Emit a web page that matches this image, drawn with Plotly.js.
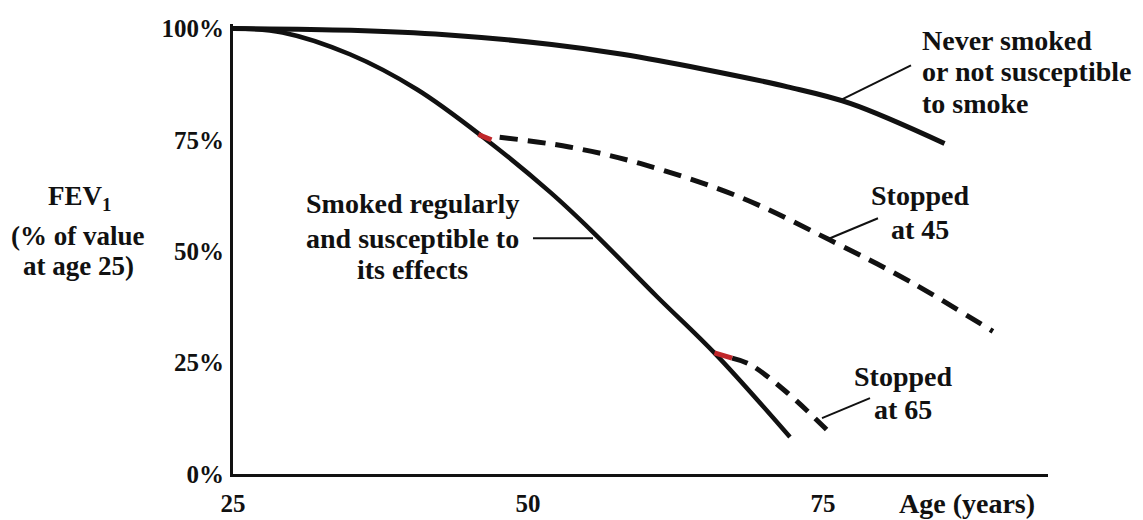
<!DOCTYPE html>
<html>
<head>
<meta charset="utf-8">
<script src="https://cdn.plot.ly/plotly-3.0.1.min.js"></script>
<style>
  html, body { margin: 0; padding: 0; background: #fff; }
  #chart { width: 1143px; height: 520px; }
</style>
</head>
<body>
<div id="chart"></div>
<script>
// Never smoked or not susceptible
const neverAge = [25, 35, 43, 52, 58, 65, 72, 77.3, 85.3];
const neverPct = [100, 99.6, 98.6, 96.4, 94.2, 90.8, 86.9, 83.2, 74.2];

// Smoked regularly and susceptible
const smokerAge = [25, 29.2, 34.9, 40.6, 46.2, 51.9, 55.5, 60.9, 65.9, 72.2];
const smokerPct = [100, 99.1, 94.2, 86.3, 75.6, 63.2, 54.3, 39.9, 26.9, 8.3];

// Stopped at 45
const stop45Age = [47.6, 53.5, 59.5, 68.0, 75.6, 82.5, 89.4];
const stop45Pct = [75.6, 73.4, 69.7, 62.1, 52.5, 43.0, 32.0];

// Stopped at 65
const stop65Age = [67.3, 68.8, 71.9, 75.8];
const stop65Pct = [26.0, 24.6, 18.4, 8.7];

// small red junction marks
const red45Age = [45.8, 46.9];
const red45Pct = [76.2, 75.0];
const red65Age = [65.8, 67.3];
const red65Pct = [27.2, 26.0];

const yTickVals = [0, 25, 50, 75, 100];
const yTickText = ['0%', '25%', '50%', '75%', '100%'];
const xTickVals = [25, 50, 75];
const xTickText = ['25', '50', '75'];

const FONT = '"Liberation Serif", "Times New Roman", serif';
const txt = (s) => '<b>' + s + '</b>';

// pixel helpers for label placement only
const px2x = (px) => 25 + (px - 233) / 11.8;
const py2y = (py) => (474 - py) / 4.46;

const traces = [
  {x: neverAge, y: neverPct, mode: 'lines', line: {color: '#111', width: 5, shape: 'spline', smoothing: 1}},
  {x: smokerAge, y: smokerPct, mode: 'lines', line: {color: '#111', width: 4.5, shape: 'spline', smoothing: 1}},
  {x: stop45Age, y: stop45Pct, mode: 'lines', line: {color: '#111', width: 5, shape: 'spline', dash: '18px,10px'}},
  {x: stop65Age, y: stop65Pct, mode: 'lines', line: {color: '#111', width: 5, shape: 'spline', dash: '16px,10px'}},
  {x: red45Age, y: red45Pct, mode: 'lines', line: {color: '#c0262a', width: 5}},
  {x: red65Age, y: red65Pct, mode: 'lines', line: {color: '#c0262a', width: 5}}
];

const leader = (x0, y0, x1, y1) => ({type: 'line', xref: 'x', yref: 'y',
  x0: px2x(x0), y0: py2y(y0), x1: px2x(x1), y1: py2y(y1), line: {color: '#111', width: 2}});

// label lines: [text, centerX px, centerY px, anchor]
const labelLines = [
  ['Never smoked', 920, 40, 'left'],
  ['or not susceptible', 920, 71, 'left'],
  ['to smoke', 920, 103, 'left'],
  ['Smoked regularly', 413, 203, 'center'],
  ['and susceptible to', 413, 238, 'center'],
  ['its effects', 413, 269, 'center'],
  ['Stopped', 920, 195, 'center'],
  ['at 45', 920, 229, 'center'],
  ['Stopped', 903, 376, 'center'],
  ['at 65', 903, 409, 'center']
];

const annotations = labelLines.map(([t, px, py, anc]) => ({
  xref: 'x', yref: 'y', x: px2x(px), y: py2y(py), xanchor: anc, yanchor: 'middle',
  text: txt(t), showarrow: false, font: {family: FONT, size: 28, color: '#111'}
}));

annotations.push({xref: 'paper', yref: 'paper', x: (967 - 233) / 815, y: (474 - 503) / 446,
  xanchor: 'center', yanchor: 'middle',
  text: txt('Age (years)'), showarrow: false, font: {family: FONT, size: 28, color: '#111'}});

const yLabelLines = [['FEV<sub>1</sub>', 79, 200], ['(% of value', 78, 238], ['at age 25)', 78, 268]];
yLabelLines.forEach(([t, px, py]) => annotations.push({
  xref: 'paper', yref: 'paper', x: (px - 233) / 815, y: (474 - py) / 446,
  xanchor: 'center', yanchor: 'middle', text: txt(t), showarrow: false,
  font: {family: FONT, size: 27, color: '#111'}
}));

const layout = {
  width: 1143, height: 520,
  margin: {l: 233, r: 95, t: 24, b: 46},
  paper_bgcolor: '#fff', plot_bgcolor: '#fff',
  showlegend: false,
  font: {family: FONT, size: 24, color: '#111'},
  xaxis: {
    range: [25, 94.07], showgrid: false, zeroline: false,
    showline: true, linecolor: '#111', linewidth: 3,
    tickvals: xTickVals, ticktext: xTickText.map(txt), ticks: '',
    ticklabelstandoff: 5,
    tickfont: {family: FONT, size: 25, color: '#111'}
  },
  yaxis: {
    range: [0, 101], showgrid: false, zeroline: false,
    showline: true, linecolor: '#111', linewidth: 3,
    tickvals: yTickVals, ticktext: yTickText.map(txt), ticks: '',
    ticklabelstandoff: 1,
    tickfont: {family: FONT, size: 25, color: '#111'}
  },
  shapes: [
    leader(840, 100, 911, 65),
    leader(533, 238, 593, 238),
    leader(878, 218, 830, 238),
    leader(870, 398, 822, 418)
  ],
  annotations: annotations
};

Plotly.newPlot('chart', traces, layout, {staticPlot: true, displayModeBar: false});
</script>
</body>
</html>
